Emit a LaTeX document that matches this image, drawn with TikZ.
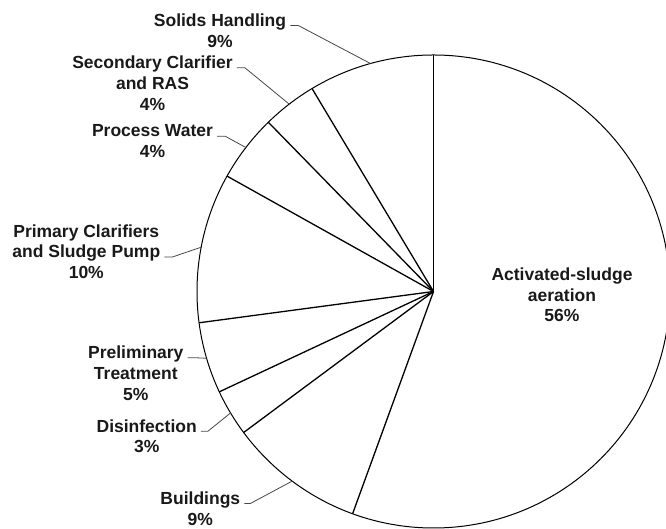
\documentclass[tikz,border=0pt]{standalone}
\usepackage{fontspec}
\setmainfont{Liberation Sans}
\begin{document}
\begin{tikzpicture}[x=1pt,y=1pt,
  lbl/.style={font=\bfseries\fontsize{17.5}{20.8}\selectfont, align=center, inner sep=0pt, anchor=north, text=black!90},
  leader/.style={draw=black!72, line width=0.8pt},
  wedge/.style={draw=black, line width=1.3pt},
  rim/.style={draw=black, line width=1pt}]
\useasboundingbox (0,0) rectangle (666,529);
\def\pieR{236.5}
\coordinate (C) at (433.5,237.5);
% pie
\draw[rim] (C) circle (\pieR);
\foreach \a in {90,-110,-143.4,-154.9,-172.4,150.8,134.3,120.9}
  \draw[wedge] (C) -- ++(\a:\pieR);
% points on the rim for the leaders
\path (C) ++(105.45:\pieR) coordinate (solP);
\path (C) ++(127.6:\pieR) coordinate (secP);
\path (C) ++(142.5:\pieR) coordinate (proP);
\path (C) ++(169.2:\pieR) coordinate (priP);
\path (C) ++(196.4:\pieR) coordinate (preP);
\path (C) ++(210.9:\pieR) coordinate (disP);
\path (C) ++(233.3:\pieR) coordinate (bldP);
% labels
\node[lbl] (act) at (562,261.5) {Activated-sludge\\aeration\\56\%};
\node[lbl] (sol) at (220,515.5) {Solids Handling\\9\%};
\node[lbl] (sec) at (152.5,473.2) {Secondary Clarifier\\and RAS\\4\%};
\node[lbl] (pro) at (152.5,404.8) {Process Water\\4\%};
\node[lbl] (pri) at (86.3,304.8) {Primary Clarifiers\\and Sludge Pump\\10\%};
\node[lbl] (pre) at (135.8,183.2) {Preliminary\\Treatment\\5\%};
\node[lbl] (dis) at (146.7,109.8) {Disinfection\\3\%};
\node[lbl] (bld) at (200.3,37.5) {Buildings\\9\%};
% leaders
\draw[leader] ([xshift=4pt,yshift=-12pt]sol.north east) -- ++(8,0) -- (solP);
\draw[leader] ([xshift=4pt,yshift=-12pt]sec.north east) -- ++(8,0) -- (secP);
\draw[leader] ([xshift=4pt,yshift=-12pt]pro.north east) -- ++(8,0) -- (proP);
\draw[leader] ([xshift=4pt,yshift=-32.8pt]pri.north east) -- ++(8,0) -- (priP);
\draw[leader] ([xshift=4pt,yshift=-12pt]pre.north east) -- ++(9,0) -- (preP);
\draw[leader] ([xshift=4pt,yshift=-12pt]dis.north east) -- ++(7,0) -- (disP);
\draw[leader] ([xshift=4pt,yshift=-12pt]bld.north east) -- ++(6,0) -- (bldP);
\end{tikzpicture}
\end{document}
